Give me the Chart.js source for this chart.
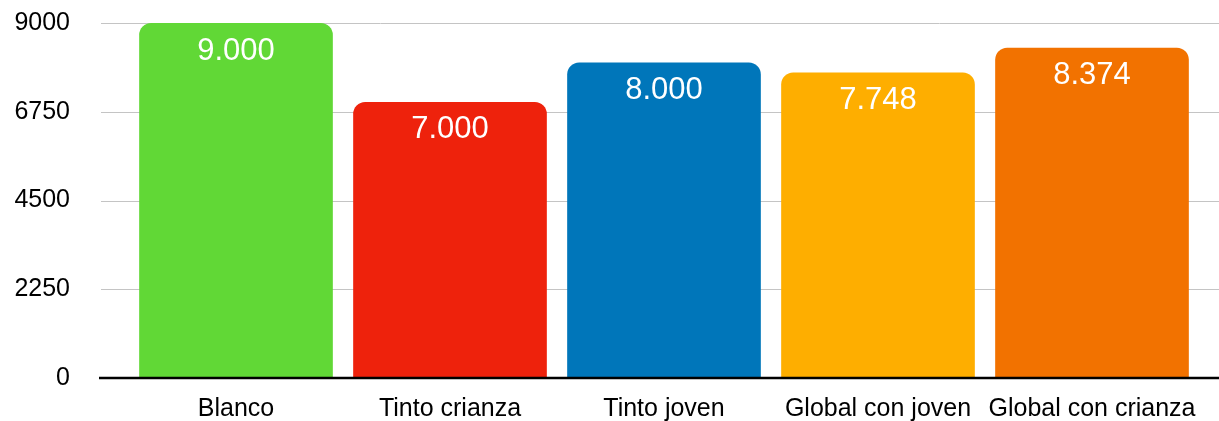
<!DOCTYPE html>
<html>
<head>
<meta charset="utf-8">
<script src="https://cdn.jsdelivr.net/npm/chart.js@4/dist/chart.umd.min.js"></script>
<style>
  html, body { margin: 0; padding: 0; background: #fff; }
  #chart { display: block; }
</style>
</head>
<body>
<canvas id="chart" width="1219" height="421"></canvas>
<script>
// --- Data ---
const categories = ['Blanco', 'Tinto crianza', 'Tinto joven', 'Global con joven', 'Global con crianza'];
const values = [9000, 7000, 8000, 7748, 8374];
const barColors = ['#61D836', '#EE220C', '#0076BA', '#FEAE00', '#F27200'];
const yTicks = [0, 2250, 4500, 6750, 9000];

const FONT = '"Liberation Sans", Helvetica, Arial, sans-serif';

// --- Gridlines spanning full width, axis line and value labels ---
const gridPlugin = {
    id: 'fullGrid',
    beforeDatasetsDraw(chart) {
        const { ctx } = chart;
        const y = chart.scales.y;
        ctx.save();
        ctx.strokeStyle = '#c4c4c4';
        ctx.lineWidth = 1;
        y.ticks.forEach(t => {
            if (t.value === 0) return;
            const py = Math.round(y.getPixelForValue(t.value)) + 0.5;
            ctx.beginPath();
            ctx.moveTo(101, py);
            ctx.lineTo(chart.width, py);
            ctx.stroke();
        });
        ctx.restore();
    },
    afterDatasetsDraw(chart) {
        const { ctx } = chart;
        const y = chart.scales.y;
        const py = y.getPixelForValue(0);
        ctx.save();
        ctx.strokeStyle = '#000';
        ctx.lineWidth = 2.6;
        ctx.beginPath();
        ctx.moveTo(99, py);
        ctx.lineTo(chart.width, py);
        ctx.stroke();

        // value labels inside bars
        const meta = chart.getDatasetMeta(0);
        ctx.fillStyle = '#fff';
        ctx.font = '31px ' + FONT;
        ctx.textAlign = 'center';
        ctx.textBaseline = 'middle';
        meta.data.forEach((bar, i) => {
            const label = values[i].toLocaleString('de-DE');
            ctx.fillText(label, bar.x, bar.y + 28);
        });
        ctx.restore();
    }
};

new Chart(document.getElementById('chart'), {
    type: 'bar',
    data: {
        labels: categories,
        datasets: [{
            data: values,
            backgroundColor: barColors,
            borderRadius: { topLeft: 12, topRight: 12, bottomLeft: 0, bottomRight: 0 },
            borderSkipped: 'start',
            categoryPercentage: 1,
            barPercentage: 0.905
        }]
    },
    options: {
        responsive: false,
        animation: false,
        layout: { padding: { top: 23, right: 20, left: 0, bottom: 0 } },
        plugins: { legend: { display: false }, tooltip: { enabled: false } },
        scales: {
            x: {
                grid: { display: false },
                border: { display: false },
                ticks: { color: '#000', font: { family: FONT, size: 25 }, padding: 8, maxRotation: 0, autoSkip: false },
                afterFit(scale) { scale.height = 43; }
            },
            y: {
                min: 0,
                max: 9000,
                afterBuildTicks(scale) { scale.ticks = yTicks.map(v => ({ value: v })); },
                grid: { display: false, drawTicks: true, tickLength: 59 },
                border: { display: false },
                ticks: { color: '#000', font: { family: FONT, size: 25 }, padding: 0, callback: v => String(v) },
                afterFit(scale) { scale.width = 129; }
            }
        }
    },
    plugins: [gridPlugin]
});
</script>
</body>
</html>
